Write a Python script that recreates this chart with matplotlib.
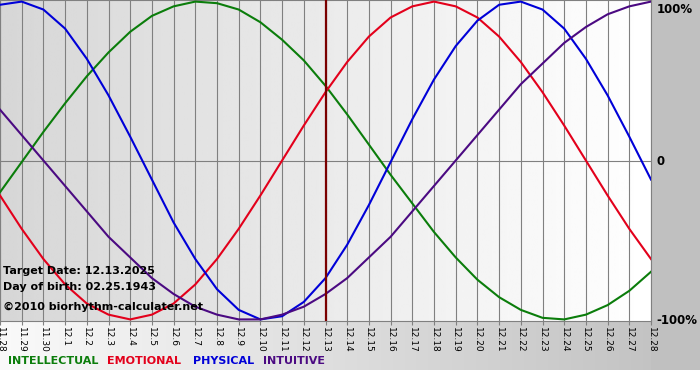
import numpy as np
import matplotlib
matplotlib.use("Agg")
import matplotlib.pyplot as plt

# day labels, 11.28 .. 12.28
days = ["11.28", "11.29", "11.30"] + [f"12.{d}" for d in range(1, 29)]

# cycle values, one per day (-1 .. 1)
intellectual = [-0.20, -0.01, 0.18, 0.36, 0.53, 0.68, 0.81, 0.91, 0.97, 1.00,
                0.99, 0.95, 0.87, 0.76, 0.63, 0.47, 0.29, 0.10, -0.09, -0.27,
                -0.45, -0.61, -0.75, -0.86, -0.94, -0.99, -1.00, -0.97, -0.91, -0.82,
                -0.70]
emotional = [-0.22, -0.43, -0.62, -0.78, -0.90, -0.97, -1.00, -0.97, -0.90, -0.78,
             -0.62, -0.43, -0.22, 0.00, 0.22, 0.43, 0.62, 0.78, 0.90, 0.97,
             1.00, 0.97, 0.90, 0.78, 0.62, 0.43, 0.22, 0.00, -0.22, -0.43,
             -0.62]
physical = [0.98, 1.00, 0.95, 0.83, 0.64, 0.41, 0.15, -0.12, -0.39, -0.62,
            -0.81, -0.94, -1.00, -0.98, -0.89, -0.74, -0.53, -0.28, -0.01, 0.26,
            0.51, 0.72, 0.88, 0.98, 1.00, 0.95, 0.83, 0.64, 0.41, 0.15,
            -0.12]
intuitive = [0.32, 0.16, 0.00, -0.16, -0.32, -0.48, -0.61, -0.74, -0.84, -0.92,
             -0.97, -1.00, -1.00, -0.97, -0.92, -0.84, -0.74, -0.61, -0.48, -0.32,
             -0.16, 0.00, 0.16, 0.32, 0.48, 0.61, 0.74, 0.84, 0.92, 0.97,
             1.00]

target_idx = days.index("12.13")

W, H = 700, 380
fig = plt.figure(figsize=(W / 100, H / 100), dpi=100)

def fx(px):
    return px / W

def fy(py):
    return 1 - py / H

# figure background: gray band under the plot + right margin, white below
bg = fig.add_axes([0, 0, 1, 1], zorder=-10)
bg.set_axis_off()
img = np.ones((H, W, 3))
band = np.linspace(0.98, 0.75, W)
img[:370, :, :] = band[None, :, None]
img[:370, 651:, :] = 0.753
bg.imshow(img, extent=[0, W, H, 0], aspect="auto", interpolation="bilinear")
bg.set_xlim(0, W)
bg.set_ylim(H, 0)

ax = fig.add_axes([0, fy(321), fx(651), (321) / H])
x = np.arange(len(days))

grad = np.linspace(0.84, 1.0, 256)[None, :]
ax.imshow(grad, extent=[0, len(days) - 1, -1.01, 1.01], aspect="auto",
          cmap="gray", vmin=0, vmax=1, zorder=0)

for xi in x:
    ax.axvline(xi, color="#808080", lw=0.8, zorder=1)
ax.axhline(0, color="#808080", lw=0.8, zorder=1)

ax.plot(x, intellectual, color="#0b7d0b", lw=1.5, zorder=3)
ax.plot(x, emotional, color="#e3001b", lw=1.5, zorder=3)
ax.plot(x, physical, color="#0000d8", lw=1.5, zorder=3)
ax.plot(x, intuitive, color="#4b0a82", lw=1.5, zorder=3)
ax.axvline(target_idx, color="#7a0000", lw=1.6, zorder=4)

ax.set_xlim(0, len(days) - 1)
ax.set_ylim(-1.01, 1.01)
ax.set_xticks(x)
ax.set_xticklabels(days, rotation=270, fontsize=6.5)
ax.tick_params(axis="x", length=3, color="#808080", pad=1)
ax.set_yticks([])
for s in ax.spines.values():
    s.set_color("#808080")
    s.set_linewidth(0.8)

for val, lab, va in [(1, "100%", "top"), (0, "0", "center"), (-1, "-100%", "center")]:
    ax.annotate(lab, xy=(1, val), xycoords=("axes fraction", "data"),
                xytext=(4, -1), textcoords="offset points", fontsize=8.5,
                fontweight="bold", va=va, ha="left", annotation_clip=False)

info = ["Target Date: 12.13.2025", "Day of birth: 02.25.1943"]
fig.text(fx(3), fy(271), info[0], fontsize=8, fontweight="bold", va="center")
fig.text(fx(3), fy(287), info[1], fontsize=8, fontweight="bold", va="center")
fig.text(fx(3), fy(307), "\u00a92010 biorhythm-calculater.net", fontsize=8,
         fontweight="bold", va="center")

legend = [("INTELLECTUAL", "#0b7d0b", 8), ("EMOTIONAL", "#e3001b", 107),
          ("PHYSICAL", "#0000d8", 193), ("INTUITIVE", "#4b0a82", 263)]
for name, col, px in legend:
    fig.text(fx(px), fy(361), name, color=col, fontsize=8, fontweight="bold",
             va="center")

fig.savefig("out.png", dpi=100)
